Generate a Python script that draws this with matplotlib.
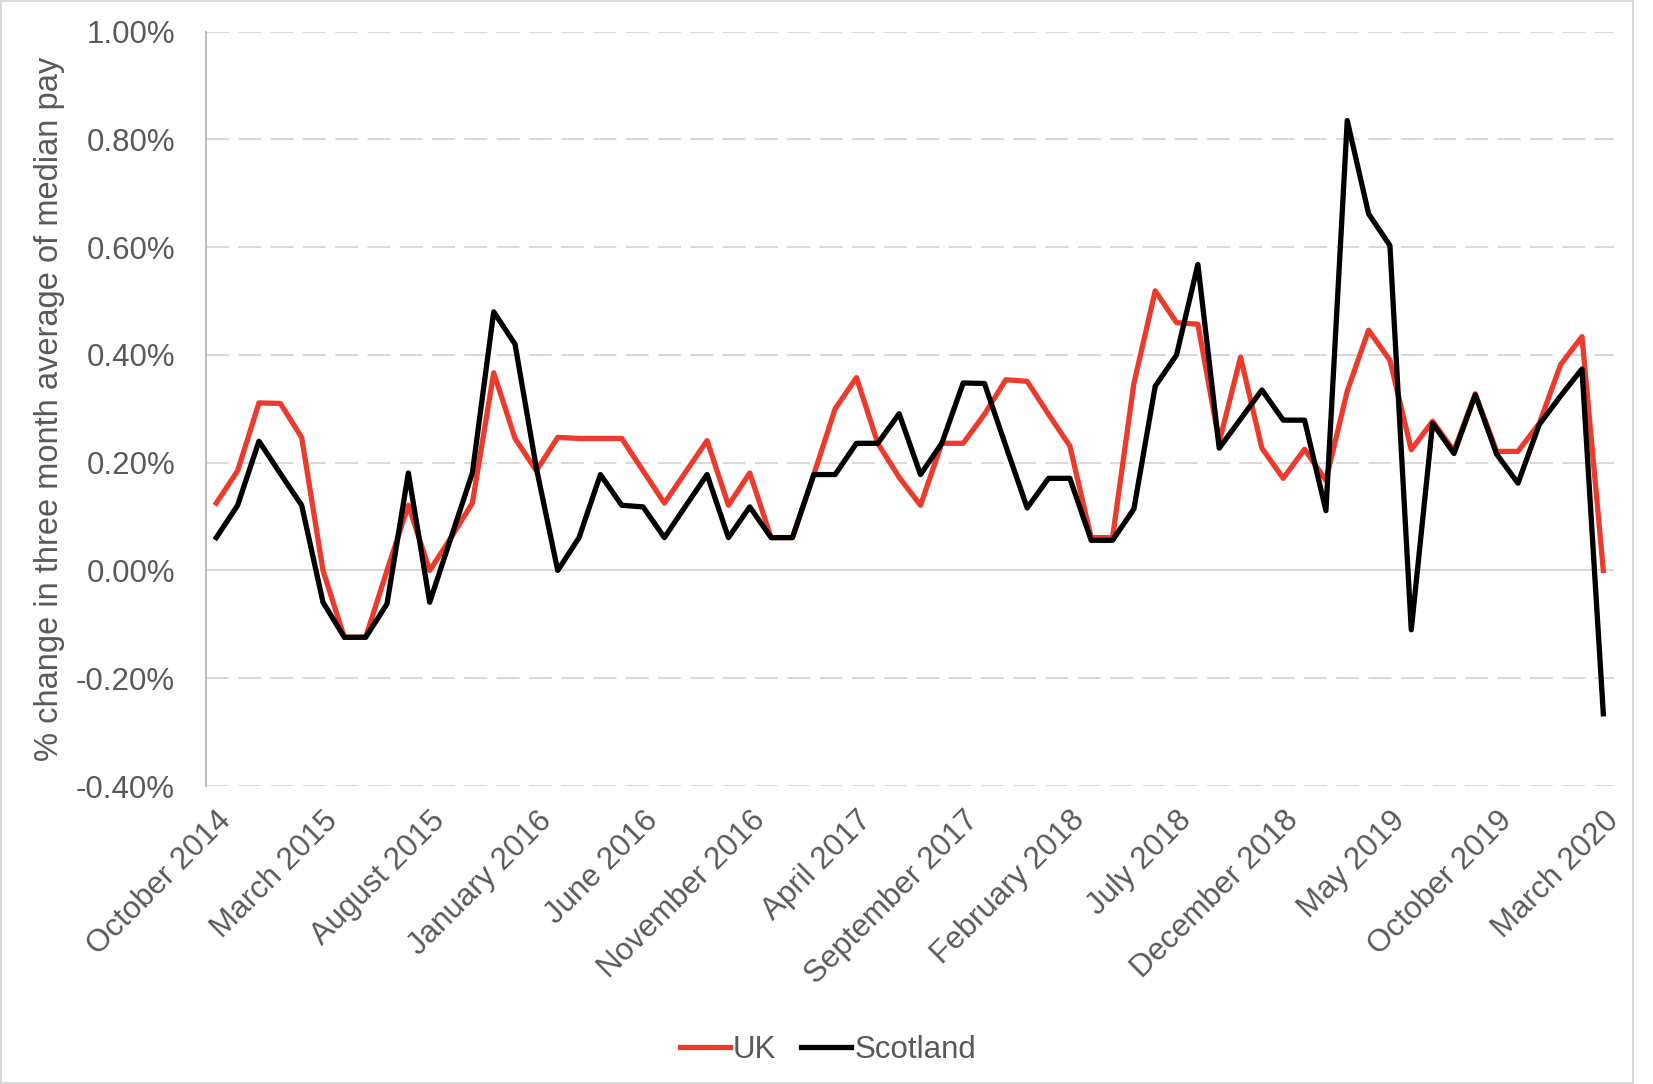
import matplotlib
matplotlib.use("Agg")
import matplotlib.pyplot as plt
from matplotlib.patches import Rectangle
from matplotlib.ticker import FuncFormatter
import numpy as np

plt.rcParams["font.family"] = ["Liberation Sans", "DejaVu Sans"]

months = [
    "October 2014", "November 2014", "December 2014", "January 2015", "February 2015",
    "March 2015", "April 2015", "May 2015", "June 2015", "July 2015", "August 2015",
    "September 2015", "October 2015", "November 2015", "December 2015", "January 2016",
    "February 2016", "March 2016", "April 2016", "May 2016", "June 2016", "July 2016",
    "August 2016", "September 2016", "October 2016", "November 2016", "December 2016",
    "January 2017", "February 2017", "March 2017", "April 2017", "May 2017", "June 2017",
    "July 2017", "August 2017", "September 2017", "October 2017", "November 2017",
    "December 2017", "January 2018", "February 2018", "March 2018", "April 2018",
    "May 2018", "June 2018", "July 2018", "August 2018", "September 2018",
    "October 2018", "November 2018", "December 2018", "January 2019", "February 2019",
    "March 2019", "April 2019", "May 2019", "June 2019", "July 2019", "August 2019",
    "September 2019", "October 2019", "November 2019", "December 2019", "January 2020",
    "February 2020", "March 2020",
]

uk = [
    0.125, 0.185, 0.311, 0.310, 0.247, 0.000, -0.124, -0.124, 0.000, 0.121, 0.000,
    0.061, 0.125, 0.367, 0.245, 0.185, 0.247, 0.245, 0.245, 0.245, 0.185, 0.125,
    0.183, 0.241, 0.121, 0.181, 0.061, 0.061, 0.178, 0.300, 0.358, 0.236, 0.173,
    0.121, 0.236, 0.236, 0.290, 0.354, 0.351, 0.290, 0.231, 0.061, 0.061,
    0.347, 0.519, 0.460, 0.457, 0.238, 0.396, 0.227, 0.171, 0.225, 0.167,
    0.333, 0.446, 0.390, 0.224, 0.277, 0.222, 0.328, 0.221, 0.221, 0.273, 0.382,
    0.434, 0.000,
]

scotland = [
    0.061, 0.121, 0.240, 0.180, 0.121, -0.059, -0.124, -0.124, -0.062, 0.181, -0.059,
    0.061, 0.181, 0.480, 0.420, 0.190, 0.000, 0.061, 0.178, 0.121, 0.118, 0.061,
    0.120, 0.178, 0.061, 0.118, 0.061, 0.061, 0.178, 0.178, 0.236, 0.236, 0.291,
    0.178, 0.236, 0.348, 0.347, 0.231, 0.116, 0.171, 0.171, 0.056, 0.056,
    0.114, 0.342, 0.400, 0.568, 0.227, 0.281, 0.335, 0.279, 0.279, 0.111,
    0.835, 0.662, 0.603, -0.110, 0.273, 0.217, 0.326, 0.216, 0.162, 0.271, 0.324,
    0.374, -0.266,
]

y_ticks = [-0.4, -0.2, 0.0, 0.2, 0.4, 0.6, 0.8, 1.0]

grey = "#595959"
x = np.arange(len(months))

fig = plt.figure(figsize=(16.53, 10.84), dpi=100)
fig.patches.append(Rectangle((0.0006, 0.0009), 0.9876, 0.9982, transform=fig.transFigure,
                             fill=False, edgecolor="#D9D9D9", lw=1.5))
ax = fig.add_axes([0.1244, 0.2749, 0.8520, 0.6959])

for t in y_ticks:
    if t == 0:
        ax.axhline(t, color="#D9D9D9", lw=1.5, zorder=1)
    else:
        ax.axhline(t, color="#D9D9D9", lw=1.5, ls=(0, (11, 4.5)), zorder=1)

ax.plot(x, uk, color="#EE3A2D", lw=3.8, label="UK", zorder=3, solid_joinstyle="round")
ax.plot(x, scotland, color="#000000", lw=3.8, label="Scotland", zorder=4, solid_joinstyle="round")

ax.set_xlim(-0.5, len(months) - 0.5)
ax.set_ylim(-0.4, 1.0)
ax.set_yticks(y_ticks)
ax.yaxis.set_major_formatter(FuncFormatter(lambda v, p: f"{v:.2f}%"))
ax.set_xticks(x[::5])
ax.set_xticklabels(months[::5], rotation=45, ha="right", rotation_mode="anchor")
ax.tick_params(axis="both", length=0, labelsize=22.5, colors=grey)
ax.tick_params(axis="y", pad=22)
ax.tick_params(axis="x", pad=14)

for s in ["top", "right", "bottom"]:
    ax.spines[s].set_visible(False)
ax.spines["left"].set_color("#BFBFBF")
ax.spines["left"].set_linewidth(1.5)

ax.set_ylabel("% change in three month average of median pay", fontsize=23.5, color=grey, labelpad=8)

ax.legend(loc="center", bbox_to_anchor=(0.442, -0.35), ncol=2, frameon=False,
          fontsize=22.5, labelcolor=grey, handlelength=1.6, handletextpad=0.1, columnspacing=0.8)

fig.savefig("out.png", dpi=100)
